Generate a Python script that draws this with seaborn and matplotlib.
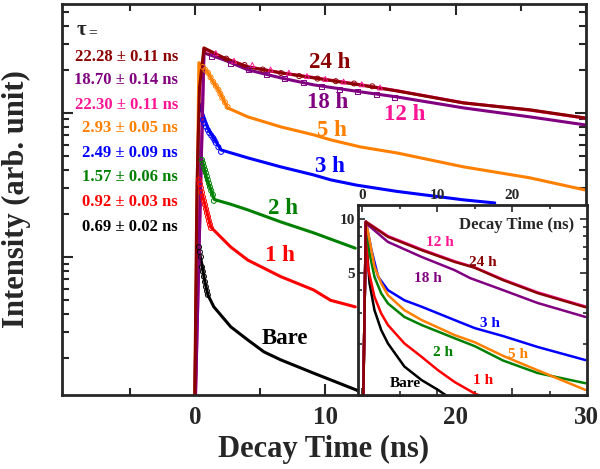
import pandas as pd
import seaborn as sns
import matplotlib.pyplot as plt
from matplotlib.ticker import FixedLocator, NullFormatter, LogLocator

# samples, colours and fitted lifetimes
samples = ['Bare', '1 h', '2 h', '3 h', '5 h', '12 h', '18 h', '24 h']
colors = ['black', '#ff0000', '#008000', '#0000ff', '#ff8000', '#ff1493', '#800080', '#8b0000']
tau_text = ['0.69 ± 0.02 ns', '0.92 ± 0.03 ns', '1.57 ± 0.06 ns', '2.49 ± 0.09 ns',
            '2.93 ± 0.05 ns', '22.30 ± 0.11 ns', '18.70 ± 0.14 ns', '22.28 ± 0.11 ns']

# main panel: decay traces (ns, counts)
t_bare = [-0.05, 0.23, 0.5, 0.75, 0.99, 1.45, 2.75, 4.06, 5.3, 6.58, 9.1, 12.4, 13.5]
i_bare = [5, 121, 92, 68, 54.5, 45, 32.7, 26.5, 21.9, 19.3, 15.6, 11.9, 10.5]
t_1h = [-0.05, 0.23, 0.6, 1.22, 2.75, 4.06, 6.58, 9.1, 10.4, 12.3]
i_1h = [5, 354, 262, 161, 117, 95, 73, 59, 50, 45]
t_2h = [-0.05, 0.38, 0.9, 1.5, 2.75, 4.06, 6.58, 9.1, 12.3]
i_2h = [5, 545, 350, 250, 232, 212, 175, 147, 115]
t_3h = [-0.05, 0.3, 1.0, 2.0, 4.06, 6.58, 9.1, 10.4, 12.4, 15.5, 20.6, 23.0]
i_3h = [5, 1173, 780, 553, 487, 422, 371, 343, 315, 285, 249, 237]
t_5h = [-0.05, 0.3, 0.6, 1.0, 1.4, 1.8, 2.5, 4.06, 6.58, 9.1, 10.4, 12.7, 15.5, 20.6, 25.7, 29.9]
i_5h = [5, 2230, 2085, 1897, 1640, 1445, 1083, 938, 800, 704, 650, 580, 527, 422, 354, 292]
t_12h = [-0.05, 0.69, 2.22, 4.06, 6.58, 9.1, 12.7, 15.5, 20.6, 25.7, 29.9]
i_12h = [5, 2790, 2400, 2090, 1900, 1760, 1570, 1425, 1175, 1045, 920]
t_18h = [-0.05, 0.69, 2.22, 4.06, 6.58, 9.1, 12.7, 15.5, 20.6, 25.7, 29.9]
i_18h = [5, 2610, 2335, 1990, 1750, 1565, 1400, 1290, 1083, 938, 826]
t_24h = [-0.05, 0.15, 0.35, 0.69, 2.22, 4.06, 6.58, 9.1, 12.7, 15.5, 20.6, 25.7, 29.9]
i_24h = [5, 300, 1500, 2825, 2410, 2084, 1897, 1750, 1560, 1420, 1172, 1050, 923]

# fitted points (open symbols)
fit_t_bare = [0.31, 0.38, 0.46, 0.54, 0.61, 0.69, 0.77, 0.84, 0.92, 0.99]
fit_i_bare = [117, 108, 100, 85, 79, 73, 67, 62, 58, 54.5]
fit_t_1h = [0.31, 0.38, 0.46, 0.54, 0.61, 0.69, 0.77, 0.85, 0.92, 1.0, 1.07, 1.15, 1.22]
fit_i_1h = [343, 320, 301, 280, 261, 245, 230, 215, 202, 190, 178, 168, 159]
fit_t_2h = [0.54, 0.62, 0.69, 0.77, 0.84, 0.92, 0.99, 1.07, 1.15, 1.25, 1.38, 1.45]
fit_i_2h = [472, 446, 422, 402, 383, 362, 343, 324, 306, 288, 270, 245]
fit_t_3h = [0.6, 0.72, 0.85, 0.98, 1.1, 1.25, 1.4, 1.5, 1.6, 1.8, 2.0]
fit_i_3h = [893, 845, 800, 762, 726, 697, 670, 645, 619, 578, 536]
fit_t_5h = [0.6, 0.8, 1.0, 1.2, 1.4, 1.6, 1.8, 1.95, 2.1, 2.3, 2.5]
fit_i_5h = [2084, 1990, 1897, 1765, 1641, 1540, 1445, 1355, 1271, 1185, 1102]
fit_t_12h = [1.6, 3.0, 4.4, 5.8, 7.2, 8.6, 10.0, 11.4, 12.8, 14.2]
fit_i_12h = [2600, 2300, 2150, 2000, 1900, 1800, 1720, 1650, 1580, 1500]
fit_t_18h = [1.3, 2.7, 4.1, 5.5, 6.9, 8.3, 9.7, 11.1, 12.5, 13.9, 15.3]
fit_i_18h = [2450, 2200, 1990, 1860, 1730, 1620, 1530, 1460, 1400, 1340, 1280]
fit_t_24h = [1.0, 2.4, 3.8, 5.2, 6.6, 8.0, 9.4, 10.8, 12.2, 13.6]
fit_i_24h = [2650, 2380, 2150, 2000, 1890, 1800, 1730, 1660, 1600, 1530]

# inset: normalised traces
n_t_bare = [0.0, 0.45, 0.6, 0.94, 1.6, 2.5, 3.4, 5.6, 7.9, 10.1, 12.0]
n_i_bare = [0.5, 9.7, 6.71, 4.38, 3.10, 2.40, 2.02, 1.50, 1.26, 1.11, 0.98]
n_t_1h = [0.0, 0.45, 0.7, 1.6, 2.5, 3.4, 5.6, 7.9, 10.1, 12.3, 15.0, 17.0]
n_i_1h = [0.5, 9.7, 5.42, 3.68, 2.97, 2.56, 2.02, 1.70, 1.43, 1.23, 1.06, 0.98]
n_t_2h = [0.0, 0.45, 0.94, 1.6, 2.5, 3.4, 5.6, 7.9, 12.3, 15.0, 18.8, 23.4, 29.8]
n_i_2h = [0.5, 9.7, 6.46, 4.76, 3.85, 3.38, 2.84, 2.56, 2.16, 1.95, 1.62, 1.38, 1.21]
n_t_3h = [0.0, 0.45, 1.2, 2.1, 3.4, 5.6, 7.9, 12.3, 15.0, 18.8, 23.4, 29.8]
n_i_3h = [0.5, 9.7, 6.71, 4.76, 4.01, 3.52, 3.24, 2.73, 2.46, 2.22, 1.93, 1.63]
n_t_5h = [0.0, 0.45, 0.94, 1.6, 2.5, 3.4, 5.6, 7.9, 12.3, 15.0, 18.8, 23.4, 29.8]
n_i_5h = [0.5, 9.7, 7.64, 5.42, 4.38, 3.76, 3.10, 2.73, 2.25, 2.05, 1.72, 1.43, 1.11]
n_t_12h = [0.0, 0.45, 3.4, 7.9, 12.3, 15.0, 18.8, 23.4, 29.8]
n_i_12h = [0.5, 9.7, 8.05, 6.78, 5.82, 5.38, 4.6, 3.9, 3.25]
n_t_18h = [0.0, 0.45, 3.4, 7.9, 12.3, 14.4, 18.8, 23.4, 29.8]
n_i_18h = [0.5, 9.5, 7.46, 6.15, 5.19, 4.68, 4.01, 3.40, 2.84]
n_t_24h = [0.0, 0.45, 3.4, 7.9, 12.3, 15.0, 18.8, 23.4, 29.8]
n_i_24h = [0.5, 9.66, 7.96, 6.71, 5.77, 5.35, 4.56, 3.86, 3.22]

main_t = [t_bare, t_1h, t_2h, t_3h, t_5h, t_12h, t_18h, t_24h]
main_i = [i_bare, i_1h, i_2h, i_3h, i_5h, i_12h, i_18h, i_24h]
fit_t = [fit_t_bare, fit_t_1h, fit_t_2h, fit_t_3h, fit_t_5h, fit_t_12h, fit_t_18h, fit_t_24h]
fit_i = [fit_i_bare, fit_i_1h, fit_i_2h, fit_i_3h, fit_i_5h, fit_i_12h, fit_i_18h, fit_i_24h]
fit_marker = ['o', 'o', 'o', 'o', 'o', '^', 's', 'o']
ins_t = [n_t_bare, n_t_1h, n_t_2h, n_t_3h, n_t_5h, n_t_12h, n_t_18h, n_t_24h]
ins_i = [n_i_bare, n_i_1h, n_i_2h, n_i_3h, n_i_5h, n_i_12h, n_i_18h, n_i_24h]

sns.set_style('ticks')
plt.rcParams['font.family'] = ['Liberation Serif', 'DejaVu Serif']
plt.rcParams['font.weight'] = 'bold'
plt.rcParams['axes.labelweight'] = 'bold'

W, H = 600, 469
fig = plt.figure(figsize=(6, 4.69), dpi=100)
ax = fig.add_axes([62 / W, 1 - 395 / H, (586 - 62) / W, (395 - 4) / H])

for k in range(len(samples)):
    sns.lineplot(x=main_t[k], y=main_i[k], ax=ax, color=colors[k], lw=2.2,
                 estimator=None, sort=False)
for k in range(len(samples)):
    sns.scatterplot(x=fit_t[k], y=fit_i[k], ax=ax, marker=fit_marker[k], s=13,
                    facecolors='none', edgecolor=colors[k], linewidth=0.7, zorder=3)

ax.set_yscale('log')
ax.set_xlim(-10.2, 30)
ax.set_ylim(11, 5700)
ax.set_xticks([0, 10, 20, 30])
ax.set_xticks([-5, 5, 15, 25], minor=True)
ax.yaxis.set_major_locator(LogLocator(base=10))
ax.yaxis.set_minor_locator(LogLocator(base=10, subs=range(2, 10)))
ax.yaxis.set_major_formatter(NullFormatter())
ax.yaxis.set_minor_formatter(NullFormatter())
ax.tick_params(which='both', direction='in', top=True, right=True, width=1.5,
               labelsize=18, pad=8)
ax.tick_params(which='major', length=8)
ax.tick_params(which='minor', length=5)
for s in ax.spines.values():
    s.set_linewidth(2)
ax.set_xlabel('Decay Time (ns)', fontsize=22, labelpad=4)
ax.set_ylabel('Intensity (arb. unit)', fontsize=22, labelpad=14)

# curve labels in the main panel (pixel centres)
main_lab_xy = [(285, 338), (280, 255), (283, 208), (330, 167), (332, 130), (405, 115), (328, 102), (330, 63)]
for k, (px, py) in enumerate(main_lab_xy):
    fig.text(px / W, 1 - py / H, samples[k], color=colors[k], fontsize=16.5,
             ha='center', va='center')

# lifetime list
fig.text(77 / W, 1 - 30 / H, 'τ', fontsize=15, ha='left', va='center')
fig.text(88 / W, 1 - 33 / H, '=', fontsize=11, ha='left', va='center')
tau_y = [227, 202, 177, 153, 128, 105, 80, 57]
for k in range(len(samples)):
    fig.text(178 / W, 1 - tau_y[k] / H, tau_text[k], color=colors[k], fontsize=12,
             ha='right', va='center')

# inset
axin = fig.add_axes([358 / W, 1 - 395 / H, (587 - 358) / W, (395 - 205) / H])
axin.set_facecolor('white')
for k in range(len(samples)):
    sns.lineplot(x=ins_t[k], y=ins_i[k], ax=axin, color=colors[k], lw=1.8,
                 estimator=None, sort=False)
axin.set_yscale('log')
axin.set_xlim(-0.6, 30)
axin.set_ylim(1.04, 12)
axin.set_xticks([0, 10, 20])
axin.set_xticks([5, 15, 25], minor=True)
axin.yaxis.set_major_locator(FixedLocator([5, 10]))
axin.yaxis.set_minor_locator(FixedLocator([2, 3, 4, 6, 7, 8, 9]))
axin.yaxis.set_major_formatter(plt.FixedFormatter(['5', '10']))
axin.yaxis.set_minor_formatter(NullFormatter())
axin.tick_params(which='both', direction='in', top=True, right=True, bottom=True,
                 labeltop=True, labelbottom=False, width=1.2, labelsize=11, pad=2)
axin.tick_params(which='major', length=5)
axin.tick_params(which='minor', length=3)
for s in axin.spines.values():
    s.set_linewidth(2)
axin.set_xlabel('')
axin.set_ylabel('')

ins_lab_xy = [(405, 383), (483, 380), (443, 353), (490, 323), (518, 355), (440, 243), (428, 278), (483, 262)]
for k, (px, py) in enumerate(ins_lab_xy):
    fig.text(px / W, 1 - py / H, samples[k], color=colors[k], fontsize=11,
             ha='center', va='center')
fig.text(517 / W, 1 - 225 / H, 'Decay Time (ns)', fontsize=12, ha='center', va='center')

fig.savefig('out.png', dpi=100)
